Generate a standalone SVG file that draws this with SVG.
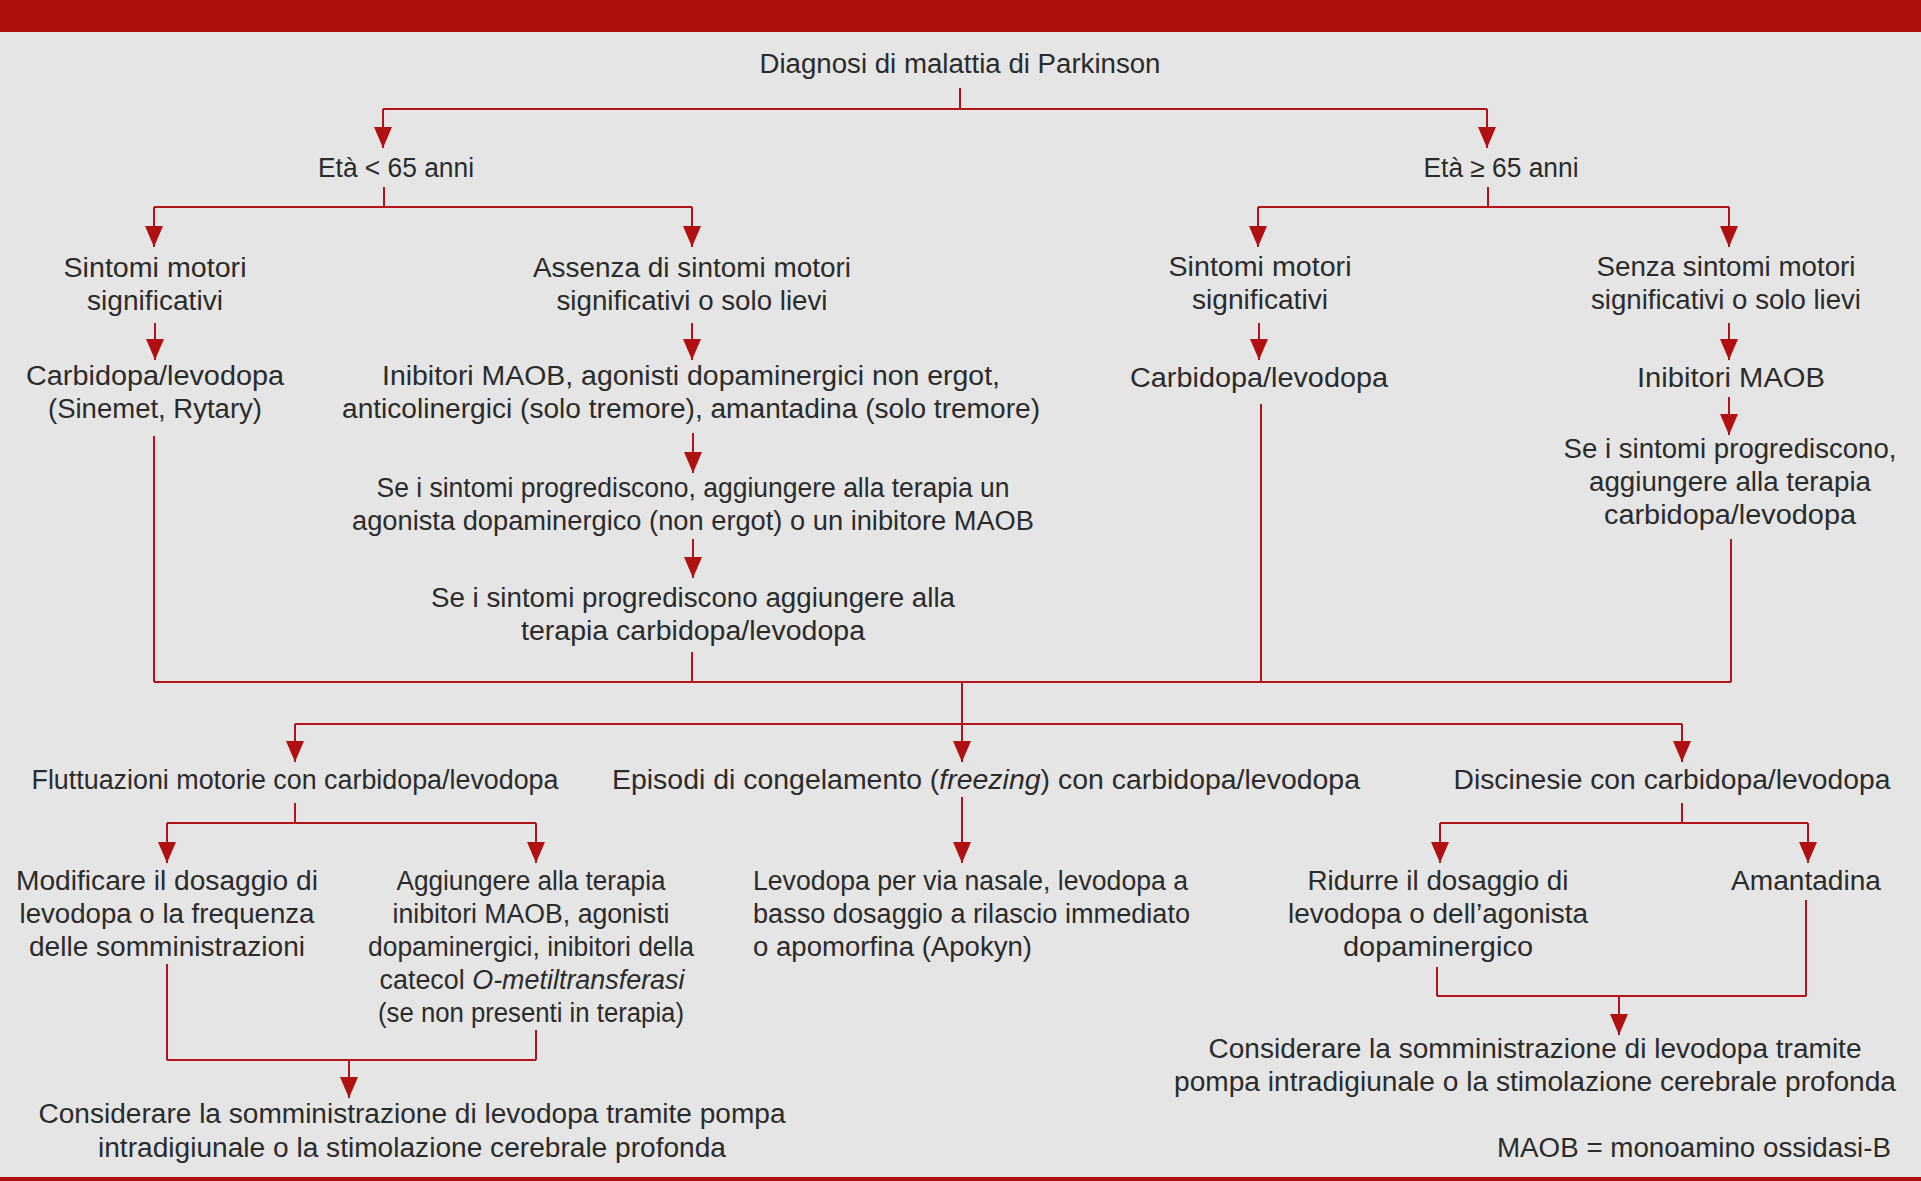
<svg xmlns="http://www.w3.org/2000/svg" width="1921" height="1181" viewBox="0 0 1921 1181">
<defs>
<marker id="arr" viewBox="0 0 21 18" markerWidth="21" markerHeight="18" refX="21" refY="9" orient="auto" markerUnits="userSpaceOnUse">
<path d="M0,0 L21,9 L0,18 Z" fill="#B0100F"/>
</marker>
<style>
text{font-family:"Liberation Sans",Arial,sans-serif;font-size:27px;fill:#2b2b2b;text-anchor:middle}
.l{text-anchor:start}
.r{text-anchor:end}
.c{fill:none;stroke:#B3141A;stroke-width:2}
.a{marker-end:url(#arr)}
</style>
</defs>
<rect x="0" y="0" width="1921" height="1181" fill="#E5E5E5"/>
<rect x="0" y="0" width="1921" height="32" fill="#AD100E"/>
<rect x="0" y="1177" width="1921" height="4" fill="#AD100E"/>

<g id="connectors">
<path class="c" d="M960,88 V109 M383,109 H1487"/>
<path class="c a" d="M383,109 V148"/>
<path class="c a" d="M1487,109 V148"/>
<path class="c" d="M384,187 V207 M154,207 H692"/>
<path class="c a" d="M154,207 V247"/>
<path class="c a" d="M692,207 V247"/>
<path class="c" d="M1488,187 V207 M1258,207 H1729"/>
<path class="c a" d="M1258,207 V247"/>
<path class="c a" d="M1729,207 V247"/>
<path class="c a" d="M155,323 V360"/>
<path class="c a" d="M692,323 V360"/>
<path class="c a" d="M1259,323 V360"/>
<path class="c a" d="M1729,323 V360"/>
<path class="c a" d="M693,433 V473"/>
<path class="c a" d="M1729,397 V435"/>
<path class="c a" d="M693,539 V578"/>
<path class="c" d="M154,436 V682 M692,652 V682 M1261,404 V682 M1731,539 V682 M154,682 H1731"/>
<path class="c a" d="M962,682 V762"/>
<path class="c" d="M295,724 H1682"/>
<path class="c a" d="M295,724 V762"/>
<path class="c a" d="M1682,724 V762"/>
<path class="c" d="M295,803 V823 M167,823 H536"/>
<path class="c a" d="M167,823 V863"/>
<path class="c a" d="M536,823 V863"/>
<path class="c a" d="M962,797 V863"/>
<path class="c" d="M1682,803 V823 M1440,823 H1808"/>
<path class="c a" d="M1440,823 V863"/>
<path class="c a" d="M1808,823 V863"/>
<path class="c" d="M167,964 V1060 M536,1030 V1060 M167,1060 H536"/>
<path class="c a" d="M349,1060 V1098"/>
<path class="c" d="M1437,967 V996 M1806,900 V996 M1437,996 H1806"/>
<path class="c a" d="M1619,996 V1035"/>
</g>

<g id="n-diagnosi"><text x="960" y="73" textLength="401" lengthAdjust="spacingAndGlyphs">Diagnosi di malattia di Parkinson</text></g>
<g id="n-eta-lt65"><text x="396" y="177" textLength="156" lengthAdjust="spacingAndGlyphs">Età &lt; 65 anni</text></g>
<g id="n-eta-ge65"><text x="1501" y="177" textLength="155" lengthAdjust="spacingAndGlyphs">Età ≥ 65 anni</text></g>

<g id="n-sintomi-lt"><text x="155" y="277" textLength="183" lengthAdjust="spacingAndGlyphs">Sintomi motori</text><text x="155" y="310" textLength="136" lengthAdjust="spacingAndGlyphs">significativi</text></g>
<g id="n-assenza"><text x="692" y="277" textLength="318" lengthAdjust="spacingAndGlyphs">Assenza di sintomi motori</text><text x="692" y="310" textLength="271" lengthAdjust="spacingAndGlyphs">significativi o solo lievi</text></g>
<g id="n-sintomi-ge"><text x="1260" y="276" textLength="183" lengthAdjust="spacingAndGlyphs">Sintomi motori</text><text x="1260" y="309" textLength="136" lengthAdjust="spacingAndGlyphs">significativi</text></g>
<g id="n-senza"><text x="1726" y="276" textLength="259" lengthAdjust="spacingAndGlyphs">Senza sintomi motori</text><text x="1726" y="309" textLength="270" lengthAdjust="spacingAndGlyphs">significativi o solo lievi</text></g>

<g id="n-carbi-lt"><text x="155" y="385" textLength="258" lengthAdjust="spacingAndGlyphs">Carbidopa/levodopa</text><text x="155" y="418" textLength="214" lengthAdjust="spacingAndGlyphs">(Sinemet, Rytary)</text></g>
<g id="n-inibitori-lt"><text x="691" y="385" textLength="618" lengthAdjust="spacingAndGlyphs">Inibitori MAOB, agonisti dopaminergici non ergot,</text><text x="691" y="418" textLength="698" lengthAdjust="spacingAndGlyphs">anticolinergici (solo tremore), amantadina (solo tremore)</text></g>
<g id="n-carbi-ge"><text x="1259" y="387" textLength="258" lengthAdjust="spacingAndGlyphs">Carbidopa/levodopa</text></g>
<g id="n-inibitori-ge"><text x="1731" y="387" textLength="188" lengthAdjust="spacingAndGlyphs">Inibitori MAOB</text></g>
<g id="n-progr-ge"><text x="1730" y="458" textLength="333" lengthAdjust="spacingAndGlyphs">Se i sintomi progrediscono,</text><text x="1730" y="491" textLength="282" lengthAdjust="spacingAndGlyphs">aggiungere alla terapia</text><text x="1730" y="524" textLength="252" lengthAdjust="spacingAndGlyphs">carbidopa/levodopa</text></g>
<g id="n-progr-lt1"><text x="693" y="497" textLength="633" lengthAdjust="spacingAndGlyphs">Se i sintomi progrediscono, aggiungere alla terapia un</text><text x="693" y="530" textLength="682" lengthAdjust="spacingAndGlyphs">agonista dopaminergico (non ergot) o un inibitore MAOB</text></g>
<g id="n-progr-lt2"><text x="693" y="607" textLength="524" lengthAdjust="spacingAndGlyphs">Se i sintomi progrediscono aggiungere alla</text><text x="693" y="640" textLength="344" lengthAdjust="spacingAndGlyphs">terapia carbidopa/levodopa</text></g>

<g id="n-fluttuazioni"><text x="295" y="789" textLength="527" lengthAdjust="spacingAndGlyphs">Fluttuazioni motorie con carbidopa/levodopa</text></g>
<g id="n-episodi"><text x="986" y="789" textLength="748" lengthAdjust="spacingAndGlyphs">Episodi di congelamento (<tspan font-style="italic">freezing</tspan>) con carbidopa/levodopa</text></g>
<g id="n-discinesie"><text x="1672" y="789" textLength="437" lengthAdjust="spacingAndGlyphs">Discinesie con carbidopa/levodopa</text></g>

<g id="n-modificare"><text x="167" y="890" textLength="302" lengthAdjust="spacingAndGlyphs">Modificare il dosaggio di</text><text x="167" y="923" textLength="295" lengthAdjust="spacingAndGlyphs">levodopa o la frequenza</text><text x="167" y="956" textLength="276" lengthAdjust="spacingAndGlyphs">delle somministrazioni</text></g>
<g id="n-aggiungere"><text x="531" y="890" textLength="269" lengthAdjust="spacingAndGlyphs">Aggiungere alla terapia</text><text x="531" y="923" textLength="277" lengthAdjust="spacingAndGlyphs">inibitori MAOB, agonisti</text><text x="531" y="956" textLength="326" lengthAdjust="spacingAndGlyphs">dopaminergici, inibitori della</text><text x="532" y="989" textLength="305" lengthAdjust="spacingAndGlyphs">catecol <tspan font-style="italic">O-metiltransferasi</tspan></text><text x="531" y="1022" textLength="306" lengthAdjust="spacingAndGlyphs">(se non presenti in terapia)</text></g>
<g id="n-levodopa-nasale"><text class="l" x="753" y="890" textLength="435" lengthAdjust="spacingAndGlyphs">Levodopa per via nasale, levodopa a</text><text class="l" x="753" y="923" textLength="437" lengthAdjust="spacingAndGlyphs">basso dosaggio a rilascio immediato</text><text class="l" x="753" y="956" textLength="279" lengthAdjust="spacingAndGlyphs">o apomorfina (Apokyn)</text></g>
<g id="n-ridurre"><text x="1438" y="890" textLength="261" lengthAdjust="spacingAndGlyphs">Ridurre il dosaggio di</text><text x="1438" y="923" textLength="300" lengthAdjust="spacingAndGlyphs">levodopa o dell’agonista</text><text x="1438" y="956" textLength="190" lengthAdjust="spacingAndGlyphs">dopaminergico</text></g>
<g id="n-amantadina"><text x="1806" y="890" textLength="150" lengthAdjust="spacingAndGlyphs">Amantadina</text></g>
<g id="n-considerare-r"><text x="1535" y="1058" textLength="653" lengthAdjust="spacingAndGlyphs">Considerare la somministrazione di levodopa tramite</text><text x="1535" y="1091" textLength="722" lengthAdjust="spacingAndGlyphs">pompa intradigiunale o la stimolazione cerebrale profonda</text></g>
<g id="n-considerare-l"><text x="412" y="1123" textLength="747" lengthAdjust="spacingAndGlyphs">Considerare la somministrazione di levodopa tramite pompa</text><text x="412" y="1157" textLength="628" lengthAdjust="spacingAndGlyphs">intradigiunale o la stimolazione cerebrale profonda</text></g>
<g id="legend"><text class="r" x="1891" y="1157" textLength="394" lengthAdjust="spacingAndGlyphs">MAOB = monoamino ossidasi-B</text></g>
</svg>
